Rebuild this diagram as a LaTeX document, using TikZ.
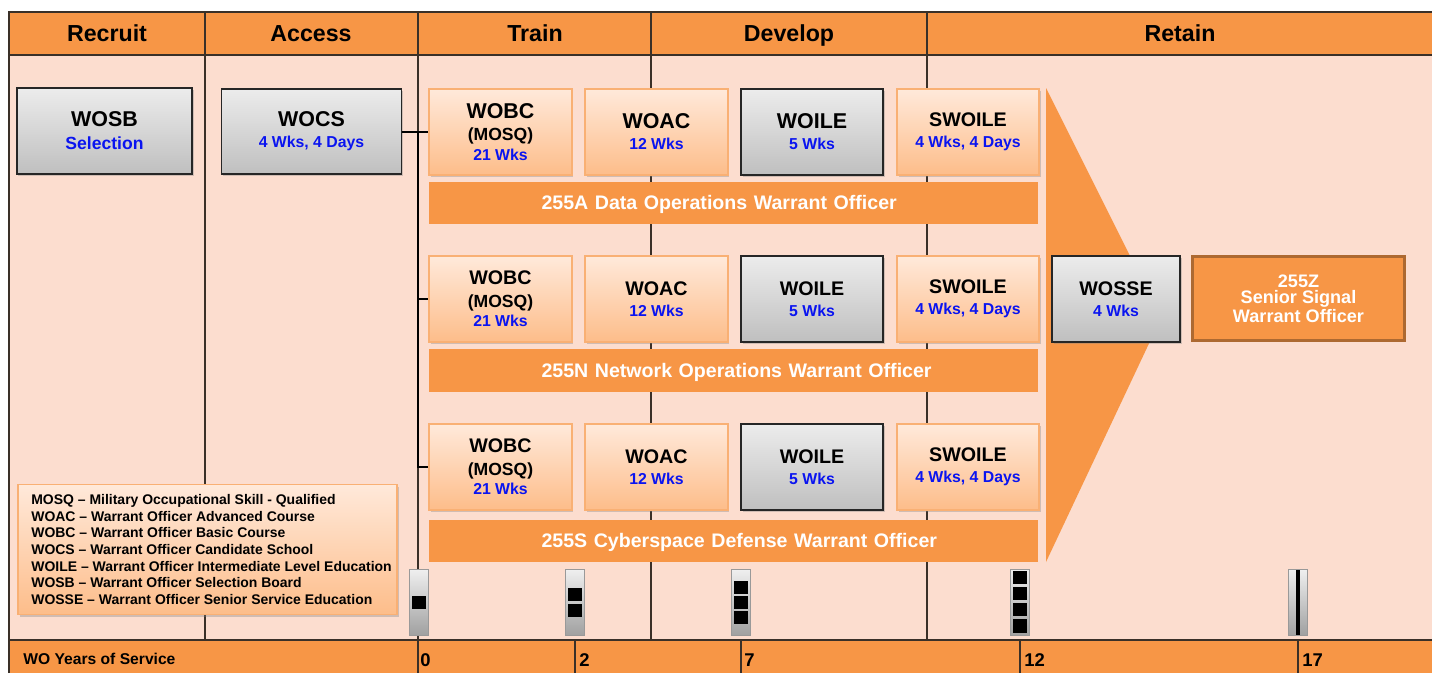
\documentclass[tikz,border=0pt]{standalone}
\usepackage{fontspec}
\setmainfont{Liberation Sans}
\usepackage{xcolor}
\usetikzlibrary{shadows}
\definecolor{hdrorange}{HTML}{F79646}
\definecolor{panelpink}{HTML}{FCDDCF}
\definecolor{wkblue}{HTML}{0A14F0}
\definecolor{gridline}{HTML}{3A3028}
\definecolor{boxtop}{HTML}{FFE9DA}
\definecolor{boxbottom}{HTML}{FDBD8A}
\newcommand{\bigname}[1]{{\fontsize{12.2}{14}\selectfont\bfseries #1}}
\newcommand{\midname}[1]{{\fontsize{11.2}{13}\selectfont\bfseries #1}}
\newcommand{\mosq}[1]{{\fontsize{10}{12}\selectfont\bfseries #1}}
\newcommand{\wks}[1]{{\fontsize{9}{10}\selectfont\bfseries\color{wkblue} #1}}
\tikzset{
  phase/.style={text=black,text height=9pt,text depth=2.5pt,inner sep=0pt,font=\fontsize{13.2}{15}\selectfont\bfseries},
  graybox/.style={draw=black!85,line width=1pt,top color=gray!15,bottom color=gray!50,align=center,inner sep=0pt,drop shadow={shadow xshift=1pt,shadow yshift=-1.2pt,opacity=0.35}},
  orangebox/.style={draw=hdrorange!75,line width=1pt,top color=boxtop,bottom color=boxbottom,align=center,inner sep=0pt,drop shadow={shadow xshift=1pt,shadow yshift=-1.2pt,opacity=0.35}},
  smallbox/.style={minimum width=81pt,minimum height=48.6pt},
  band/.style={fill=hdrorange,text=white,minimum height=24pt,inner sep=0pt,text width=346.5pt,text height=8pt,text depth=0.3pt,align=left,execute at begin node=\hspace*{64pt},font=\fontsize{11.15}{13}\selectfont\bfseries},
  rankbar/.style={draw=gray!80,line width=0.5pt,top color=gray!12,bottom color=gray!75,minimum width=11pt,minimum height=38pt,inner sep=0pt},
  yeartick/.style={right,inner sep=0pt,font=\fontsize{10.5}{12}\selectfont\bfseries},
  link/.style={draw=black,line width=1pt}
}
\begin{document}
\begin{tikzpicture}[x=0.02cm,y=-0.02cm]
\useasboundingbox (0,0) rectangle (1437,673);
% bands of the chart
\fill[panelpink] (9,55) rectangle (1432,640);
\fill[hdrorange] (9,12) rectangle (1432,55);
\fill[hdrorange] (9,640) rectangle (1432,673);
\draw[gridline,line width=0.9pt] (9,673) -- (9,12) -- (1432,12);
\draw[gridline,line width=0.9pt] (9,55) -- (1432,55);
\draw[gridline,line width=0.9pt] (9,640) -- (1432,640);
\draw[gridline,line width=0.8pt] (205,12) -- (205,640);
\draw[gridline,line width=0.8pt] (418,12) -- (418,673);
\draw[gridline,line width=0.8pt] (651,12) -- (651,640);
\draw[gridline,line width=0.8pt] (927,12) -- (927,640);
\draw[gridline,line width=0.8pt] (575,640) -- (575,673);
\draw[gridline,line width=0.8pt] (741,640) -- (741,673);
\draw[gridline,line width=0.8pt] (1020,640) -- (1020,673);
\draw[gridline,line width=0.8pt] (1298,640) -- (1298,673);
\node[phase] (recruit) at (107,35.5) {Recruit};
\node[phase] (access) at (311,35.5) {Access};
\node[phase] (train) at (535,35.5) {Train};
\node[phase] (develop) at (789,35.5) {Develop};
\node[phase] (retain) at (1180,35.5) {Retain};
% big arrow
\fill[hdrorange] (1046,88) -- (1161,318) -- (1046,562) -- cycle;
% first courses
\node[graybox,minimum width=100pt,minimum height=48.6pt] (wosb) at (104.5,131) {\bigname{WOSB}\\[1pt]{\fontsize{10}{12}\selectfont\bfseries\color{wkblue}Selection}};
\node[graybox,minimum width=102.5pt,minimum height=48.6pt] (wocs) at (311.5,131.5) {\bigname{WOCS}\\[0pt]\wks{4 Wks, 4 Days}};
% 255A
\node[orangebox,smallbox] (wobcA) at (500.5,132) {\bigname{WOBC}\\[0.7pt]\mosq{(MOSQ)}\\[-1pt]\wks{21 Wks}};
\node[orangebox,smallbox] (woacA) at (656.5,132) {\bigname{WOAC}\\[0pt]\wks{12 Wks}};
\node[graybox,smallbox] (woileA) at (812,132) {\bigname{WOILE}\\[0pt]\wks{5 Wks}};
\node[orangebox,smallbox] (swoileA) at (968,132) {\midname{SWOILE}\\[0pt]\wks{4 Wks, 4 Days}};
\node[band] (bandA) at (733.5,203) {255A Data Operations Warrant Officer};
% 255N
\node[orangebox,smallbox] (wobcB) at (500.5,299) {\midname{WOBC}\\[0.7pt]\mosq{(MOSQ)}\\[-1pt]\wks{21 Wks}};
\node[orangebox,smallbox] (woacB) at (656.5,299) {\midname{WOAC}\\[0pt]\wks{12 Wks}};
\node[graybox,smallbox] (woileB) at (812,299) {\midname{WOILE}\\[0pt]\wks{5 Wks}};
\node[orangebox,smallbox] (swoileB) at (968,299) {\midname{SWOILE}\\[0pt]\wks{4 Wks, 4 Days}};
\node[band] (bandB) at (733.5,370.5) {255N Network Operations Warrant Officer};
% 255S
\node[orangebox,smallbox] (wobcC) at (500.5,467) {\midname{WOBC}\\[0.7pt]\mosq{(MOSQ)}\\[-1pt]\wks{21 Wks}};
\node[orangebox,smallbox] (woacC) at (656.5,467) {\midname{WOAC}\\[0pt]\wks{12 Wks}};
\node[graybox,smallbox] (woileC) at (812,467) {\midname{WOILE}\\[0pt]\wks{5 Wks}};
\node[orangebox,smallbox] (swoileC) at (968,467) {\midname{SWOILE}\\[0pt]\wks{4 Wks, 4 Days}};
\node[band] (bandC) at (733.5,541) {255S Cyberspace Defense Warrant Officer};
% links from WOCS
\coordinate (spine) at (418,132);
\draw[link] (wocs.east |- wobcA.west) -- (wobcA.west);
\draw[link] (spine) -- (spine |- wobcC.west) -- (wobcC.west);
\draw[link] (spine |- wobcB.west) -- (wobcB.west);
% senior level
\node[graybox,minimum width=73pt,minimum height=48.6pt] (wosse) at (1116,299) {\midname{WOSSE}\\[0pt]\wks{4 Wks}};
\node[draw=hdrorange!70!black,line width=1.6pt,fill=hdrorange,text=white,align=center,minimum width=121pt,minimum height=48pt,inner sep=0pt,font=\fontsize{10.3}{9.4}\selectfont\bfseries] (seniorZ) at (1298.5,298.5) {255Z\\Senior Signal\\Warrant Officer};
% legend
\node[orangebox,minimum width=216pt,minimum height=74pt] (legend) at (207.5,549.5) {};
\node[right,inner sep=0pt,align=left,font=\fontsize{7.95}{9.5}\selectfont\bfseries] (legendtext) at (31,549.5) {MOSQ -- Military Occupational Skill - Qualified\\
WOAC -- Warrant Officer Advanced Course\\
WOBC -- Warrant Officer Basic Course\\
WOCS -- Warrant Officer Candidate School\\
WOILE -- Warrant Officer Intermediate Level Education\\
WOSB -- Warrant Officer Selection Board\\
WOSSE -- Warrant Officer Senior Service Education};
% rank insignia
\node[rankbar] (rankA) at (419,602.5) {};
\node[rankbar] (rankB) at (575,602.5) {};
\node[rankbar] (rankC) at (741,602.5) {};
\node[rankbar] (rankD) at (1020,602.5) {};
\node[rankbar] (rankE) at (1298,602.5) {};
\fill[black] (412,596) rectangle (426,609);
\fill[black] (568,588) rectangle (582,601);
\fill[black] (568,604) rectangle (582,617);
\fill[black] (734,581) rectangle (748,594);
\fill[black] (734,596) rectangle (748,609);
\fill[black] (734,611) rectangle (748,624);
\fill[black] (1013,571) rectangle (1027,584);
\fill[black] (1013,587) rectangle (1027,600);
\fill[black] (1013,603) rectangle (1027,616);
\fill[black] (1013,619) rectangle (1027,633);
\fill[black] (1296,570) rectangle (1300,635);
% years of service
\node[right,inner sep=0pt,font=\fontsize{8.9}{10}\selectfont\bfseries] (years) at (23,659) {WO Years of Service};
\node[yeartick] (yrA) at (420,660) {0};
\node[yeartick] (yrB) at (579,660) {2};
\node[yeartick] (yrC) at (744,660) {7};
\node[yeartick] (yrD) at (1024,660) {12};
\node[yeartick] (yrE) at (1302,660) {17};
\end{tikzpicture}
\end{document}
